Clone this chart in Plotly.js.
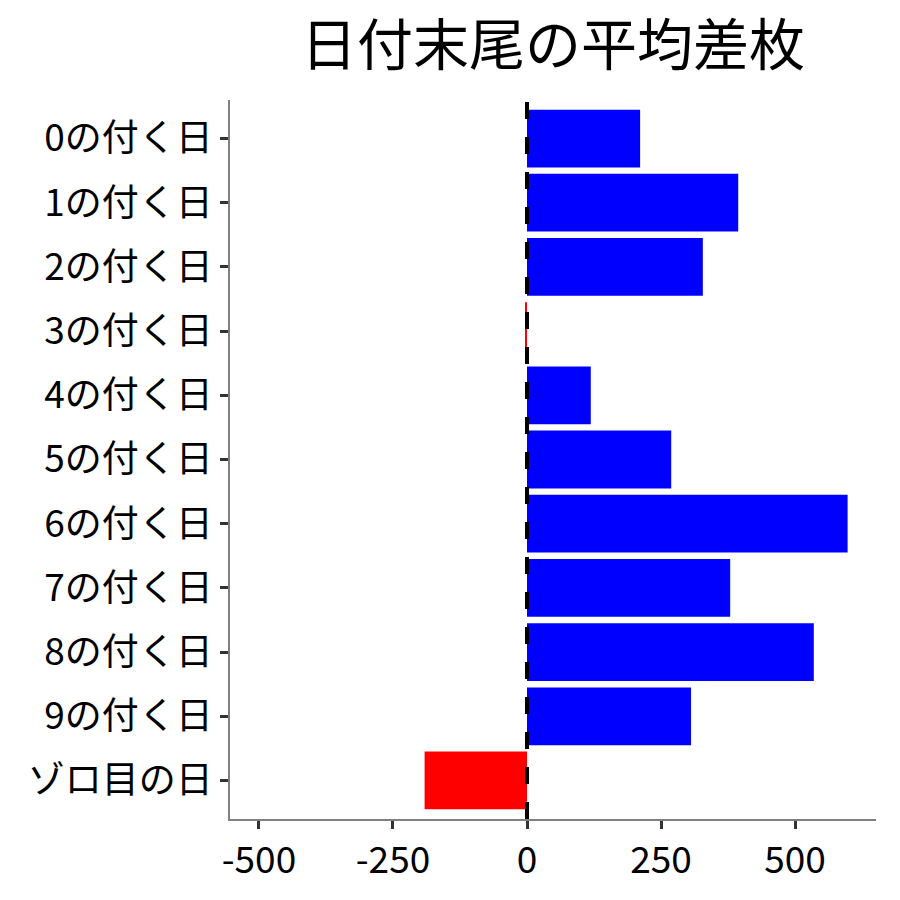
<!DOCTYPE html>
<html>
<head>
<meta charset="utf-8">
<script src="https://cdn.plot.ly/plotly-3.0.1.min.js"></script>
<style>
html, body { margin: 0; padding: 0; background: #fff; }
#chart { width: 900px; height: 900px; }
</style>
</head>
<body>
<div id="chart"></div>
<script>
// Categories (top to bottom) and mean values.
const categories = ['0の付く日', '1の付く日', '2の付く日', '3の付く日', '4の付く日',
  '5の付く日', '6の付く日', '7の付く日', '8の付く日', '9の付く日', 'ゾロ目の日'];
const diffs = [211, 394, 328, -3, 119, 269, 598, 379, 535, 306, -191];
const tickValues = [-500, -250, 0, 250, 500];

// Blue for plus, red for minus.
const colors = diffs.map(v => v >= 0 ? '#0000FF' : '#FF0000');
const font = 'Noto Sans CJK JP, Noto Sans, sans-serif';

let bars = {
  type: 'bar',
  orientation: 'h',
  x: diffs,
  y: categories,
  width: 0.9,
  marker: {color: colors, line: {width: 0}},
  hoverinfo: 'x+y',
  showlegend: false
};

let layout = {
  width: 900,
  height: 900,
  margin: {l: 230, r: 24, t: 100, b: 81},
  paper_bgcolor: '#fff',
  plot_bgcolor: '#fff',
  font: {family: font, color: '#000'},
  title: {
    text: '日付末尾の平均差枚',
    font: {family: font, size: 56, color: '#000'},
    xref: 'paper',
    x: 0.5,
    xanchor: 'center',
    y: 0.95,
    yanchor: 'middle'
  },
  xaxis: {
    range: [-554, 651],
    tickvals: tickValues,
    ticktext: tickValues.map(String),
    showgrid: false,
    zeroline: false,
    showline: true,
    linecolor: '#808080',
    linewidth: 1.5,
    ticks: 'outside',
    ticklen: 8,
    tickwidth: 3,
    tickcolor: '#333',
    tickfont: {family: font, size: 37, color: '#000'}
  },
  yaxis: {
    type: 'category',
    categoryorder: 'array',
    categoryarray: categories,
    range: [10.6, -0.6],
    showgrid: false,
    zeroline: false,
    showline: true,
    linecolor: '#808080',
    linewidth: 1.5,
    ticks: 'outside',
    ticklen: 8,
    tickwidth: 3,
    tickcolor: '#333',
    tickfont: {family: font, size: 37, color: '#000'}
  },
  // Dashed zero line over the bars.
  shapes: [{
    type: 'line',
    xref: 'x', yref: 'paper',
    x0: 0, x1: 0, y0: 0, y1: 1,
    layer: 'above',
    line: {color: '#000', width: 4, dash: '17px,18px'}
  }]
};

let config = {displayModeBar: false, responsive: false};

Plotly.newPlot('chart', [bars], layout, config);
</script>
</body>
</html>
